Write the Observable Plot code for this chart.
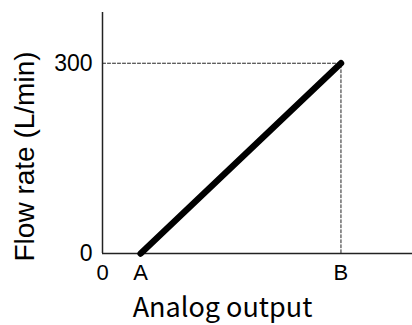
<!DOCTYPE html>
<html>
<head>
<meta charset="utf-8">
<script src="https://cdn.jsdelivr.net/npm/d3@7"></script>
<script src="https://cdn.jsdelivr.net/npm/@observablehq/plot@0.6"></script>
<style>
  html, body { margin: 0; padding: 0; background: #fff; }
</style>
</head>
<body>
<div id="chart"></div>
<script>
// Analog output (arbitrary units) and the matching flow rate
const outputLevel = [0.8, 5];        // A, B
const flowRate = [0, 300];           // L/min at A and at B
const outputMax = 6.5;
const flowMax = 380;

// Axis ticks
const xTicks = [0, 0.8, 5];
const xTickLabels = ["0", "A", "B"];
const yTicks = [0, 300];

const xLabel = "Analog output";
const yLabel = "Flow rate (L/min)";

const response = outputLevel.map((x, i) => ({x, y: flowRate[i]}));
const guide = [
  {x: 0, y: flowRate[1]},
  {x: outputLevel[1], y: flowRate[1]},
  {x: outputLevel[1], y: 0}
];

const chart = Plot.plot({
  width: 412,
  height: 325,
  marginLeft: 102,
  marginRight: 0,
  marginTop: 12,
  marginBottom: 72,
  style: {background: "white", color: "black", fontFamily: "'Liberation Sans', Arial, sans-serif", overflow: "visible"},
  x: {domain: [0, outputMax]},
  y: {domain: [0, flowMax]},
  marks: [
    Plot.axisX({ticks: xTicks, tickFormat: (d, i) => xTickLabels[i], tickSize: 0, tickPadding: 11, fontSize: 22, label: null}),
    Plot.axisY({ticks: yTicks, tickSize: 0, tickPadding: 10, fontSize: 23, label: null}),
    Plot.line(guide, {x: "x", y: "y", stroke: "#222", strokeWidth: 1, strokeDasharray: "3,2"}),
    Plot.ruleY([0], {stroke: "#222", strokeWidth: 1.5}),
    Plot.ruleX([0], {stroke: "#222", strokeWidth: 1.5}),
    Plot.line(response, {x: "x", y: "y", stroke: "black", strokeWidth: 6.5, strokeLinecap: "round"}),
    Plot.text([xLabel], {
      text: d => d, frameAnchor: "bottom", lineAnchor: "bottom", textAnchor: "middle",
      dx: -35, dy: 63, fontSize: 27, fontFamily: "'Noto Sans CJK JP', 'Noto Sans', sans-serif", fill: "black"
    }),
    Plot.text([yLabel], {
      text: d => d, frameAnchor: "left", lineAnchor: "bottom", textAnchor: "middle", rotate: -90,
      dx: -69, dy: 23.5, fontSize: 28, fill: "black"
    })
  ]
});

document.getElementById("chart").appendChild(chart);
</script>
</body>
</html>
